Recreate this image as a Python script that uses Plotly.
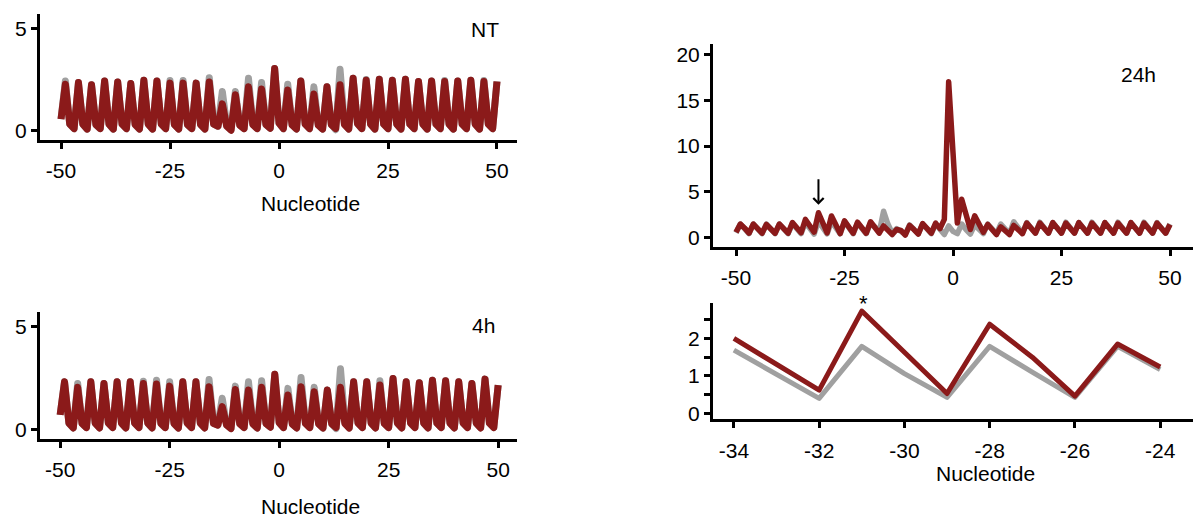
import plotly.graph_objects as go

# ---------------- data ----------------
nucleotide = list(range(-50, 51))

# NT (non-treated) : control (grey) and treated (red)
nt_treated = [0.55,
    2.27, 0.30, 0.08,  2.35, 0.30, 0.06,  2.24, 0.28, 0.08,  2.43, 0.30, 0.06,
    2.38, 0.30, 0.08,  2.30, 0.28, 0.06,  2.46, 0.30, 0.06,  2.43, 0.30, 0.08,
    2.32, 0.28, 0.06,  2.32, 0.28, 0.08,  2.32, 0.28, 0.06,  2.38, 0.30, 0.20,
    1.30, 0.20, 0.00,  1.75, 0.25, 0.08,  2.14, 0.28, 0.08,  2.03, 0.28, 0.10,
    3.04, 0.35, 0.08,  1.98, 0.26, 0.06,  2.43, 0.30, 0.08,  1.79, 0.25, 0.06,
    2.14, 0.28, 0.08,  2.24, 0.28, 0.06,  2.56, 0.32, 0.08,  2.46, 0.30, 0.06,
    2.51, 0.30, 0.08,  2.46, 0.30, 0.06,  2.51, 0.30, 0.08,  2.40, 0.30, 0.06,
    2.43, 0.30, 0.08,  2.40, 0.30, 0.06,  2.43, 0.30, 0.08,  2.46, 0.30, 0.06,
    2.40, 0.30, 0.08,
    2.40]
nt_control = [0.55,
    2.43, 0.30, 0.08,  2.35, 0.30, 0.06,  2.24, 0.28, 0.08,  2.43, 0.30, 0.06,
    2.38, 0.30, 0.08,  2.30, 0.28, 0.06,  2.46, 0.30, 0.06,  2.43, 0.30, 0.08,
    2.45, 0.28, 0.06,  2.45, 0.28, 0.08,  2.32, 0.28, 0.06,  2.59, 0.30, 0.20,
    1.91, 0.25, 0.03,  1.91, 0.26, 0.08,  2.56, 0.30, 0.08,  2.35, 0.28, 0.10,
    3.04, 0.35, 0.08,  2.27, 0.28, 0.06,  2.43, 0.30, 0.08,  2.14, 0.28, 0.06,
    2.14, 0.28, 0.03,  3.00, 0.35, 0.06,  2.56, 0.32, 0.08,  2.50, 0.30, 0.06,
    2.51, 0.30, 0.08,  2.46, 0.30, 0.06,  2.51, 0.30, 0.08,  2.40, 0.30, 0.06,
    2.43, 0.30, 0.08,  2.45, 0.30, 0.06,  2.43, 0.30, 0.08,  2.46, 0.30, 0.06,
    2.45, 0.30, 0.08,
    2.40]

# 4h
h4_treated = [0.70,
    2.31, 0.30, 0.06,  2.04, 0.28, 0.08,  2.31, 0.30, 0.06,  2.23, 0.30, 0.08,
    2.31, 0.30, 0.06,  2.31, 0.30, 0.08,  2.23, 0.30, 0.06,  2.20, 0.28, 0.08,
    2.10, 0.28, 0.06,  2.31, 0.30, 0.08,  2.31, 0.30, 0.06,  2.07, 0.28, 0.20,
    1.10, 0.20, 0.03,  1.94, 0.26, 0.08,  1.91, 0.26, 0.06,  2.04, 0.28, 0.10,
    2.68, 0.32, 0.08,  1.67, 0.25, 0.06,  2.07, 0.28, 0.08,  1.83, 0.26, 0.06,
    1.91, 0.26, 0.08,  2.04, 0.28, 0.06,  2.31, 0.30, 0.08,  2.31, 0.30, 0.06,
    2.15, 0.28, 0.08,  2.47, 0.30, 0.06,  2.31, 0.30, 0.08,  2.26, 0.30, 0.06,
    2.39, 0.30, 0.08,  2.36, 0.30, 0.06,  2.31, 0.30, 0.08,  2.23, 0.30, 0.06,
    2.44, 0.30, 0.08,
    2.15]
h4_control = [0.70,
    2.31, 0.30, 0.06,  2.23, 0.28, 0.08,  2.31, 0.30, 0.06,  2.23, 0.30, 0.08,
    2.31, 0.30, 0.06,  2.31, 0.30, 0.08,  2.34, 0.30, 0.06,  2.39, 0.28, 0.08,
    2.31, 0.28, 0.06,  2.31, 0.30, 0.08,  2.31, 0.30, 0.06,  2.42, 0.30, 0.20,
    1.51, 0.22, 0.03,  2.10, 0.28, 0.08,  2.31, 0.28, 0.06,  2.36, 0.28, 0.10,
    2.68, 0.32, 0.08,  1.99, 0.26, 0.06,  2.52, 0.30, 0.08,  2.04, 0.28, 0.06,
    1.91, 0.26, 0.03,  2.95, 0.35, 0.06,  2.31, 0.30, 0.08,  2.31, 0.30, 0.06,
    2.36, 0.28, 0.08,  2.47, 0.30, 0.06,  2.31, 0.30, 0.08,  2.26, 0.30, 0.06,
    2.39, 0.30, 0.08,  2.36, 0.30, 0.06,  2.31, 0.30, 0.08,  2.23, 0.30, 0.06,
    2.44, 0.30, 0.08,
    2.15]

# 24h
h24_treated = [0.60,
    1.50, 1.05, 0.50,  1.50, 1.00, 0.50,  1.45, 1.00, 0.50,  1.50, 1.05, 0.50,
    1.65, 1.10, 0.55,  2.00, 1.31, 0.62,  2.73, 1.63, 0.53,  2.38, 1.50, 0.46,
    1.85, 1.24, 0.50,  1.70, 1.10, 0.50,  1.75, 1.10, 0.50,  1.30, 0.90, 0.35,
    0.90, 0.80, 0.30,  1.35, 0.90, 0.40,  1.55, 1.00, 0.50,  1.60, 1.00, 2.00,
    17.0, 9.30, 1.60,  4.20, 2.60, 0.90,  2.40, 1.40, 0.60,  1.45, 0.90, 0.35,
    1.20, 0.80, 0.35,  1.35, 0.90, 0.45,  1.60, 1.05, 0.50,  1.60, 1.05, 0.50,
    1.65, 1.05, 0.50,  1.60, 1.05, 0.50,  1.65, 1.05, 0.50,  1.60, 1.05, 0.50,
    1.65, 1.05, 0.50,  1.60, 1.05, 0.50,  1.65, 1.05, 0.50,  1.60, 1.05, 0.50,
    1.60, 1.00, 0.50,
    1.45]
h24_control = [0.55,
    1.50, 1.00, 0.45,  1.50, 1.00, 0.45,  1.50, 1.00, 0.45,  1.50, 1.00, 0.45,
    1.55, 1.00, 0.45,  1.69, 1.05, 0.40,  1.79, 1.06, 0.43,  1.79, 1.10, 0.43,
    1.79, 1.17, 0.45,  1.60, 1.00, 0.45,  1.60, 1.20, 0.60,  2.90, 1.50, 0.50,
    1.00, 0.70, 0.40,  1.40, 0.90, 0.45,  1.50, 1.00, 0.45,  1.50, 0.90, 0.35,
    1.30, 0.70, 0.45,  1.50, 0.90, 0.40,  1.40, 0.90, 0.45,  1.50, 1.00, 0.45,
    1.50, 1.00, 0.45,  1.75, 1.10, 0.50,  1.65, 1.05, 0.50,  1.70, 1.05, 0.50,
    1.65, 1.05, 0.50,  1.70, 1.05, 0.50,  1.65, 1.05, 0.50,  1.70, 1.05, 0.50,
    1.65, 1.05, 0.50,  1.70, 1.05, 0.50,  1.65, 1.05, 0.50,  1.70, 1.05, 0.50,
    1.65, 1.00, 0.50,
    1.50]

zoom_start, zoom_end = -34, -24
x_ticks_full = [-50, -25, 0, 25, 50]
x_ticks_zoom = [-34, -32, -30, -28, -26, -24]

# ---------------- style ----------------
W, H = 1193, 524
RED = '#8b1a1a'
GREY = '#a0a0a0'
FONT = "Arial, 'Liberation Sans', sans-serif"


def px_x(p):
    return p / W


def px_y(p):
    return 1 - p / H


fig = go.Figure()

panels = [
    ('x', 'y', nt_control, nt_treated, 7),
    ('x2', 'y2', h4_control, h4_treated, 7),
    ('x3', 'y3', h24_control, h24_treated, 5.5),
]
for xa, ya, ctrl, trt, w in panels:
    fig.add_trace(go.Scatter(x=nucleotide, y=ctrl, mode='lines',
                             line=dict(color=GREY, width=w),
                             xaxis=xa, yaxis=ya, showlegend=False, hoverinfo='skip'))
    fig.add_trace(go.Scatter(x=nucleotide, y=trt, mode='lines',
                             line=dict(color=RED, width=w),
                             xaxis=xa, yaxis=ya, showlegend=False, hoverinfo='skip'))

zx = [n for n in nucleotide if zoom_start <= n <= zoom_end]
zc = [v for n, v in zip(nucleotide, h24_control) if zoom_start <= n <= zoom_end]
zt = [v for n, v in zip(nucleotide, h24_treated) if zoom_start <= n <= zoom_end]
fig.add_trace(go.Scatter(x=zx, y=zc, mode='lines', line=dict(color=GREY, width=5),
                         xaxis='x4', yaxis='y4', showlegend=False, hoverinfo='skip'))
fig.add_trace(go.Scatter(x=zx, y=zt, mode='lines', line=dict(color=RED, width=5),
                         xaxis='x4', yaxis='y4', showlegend=False, hoverinfo='skip'))

axis_common = dict(showline=True, linecolor='black', linewidth=3,
                   ticks='outside', ticklen=6, tickwidth=2.5, tickcolor='black',
                   showgrid=False, zeroline=False, fixedrange=True,
                   tickfont=dict(family=FONT, size=21, color='black'))


def xaxis(domain, anchor, rng, tickvals):
    d = dict(axis_common)
    d.update(domain=domain, anchor=anchor, range=rng, tickmode='array',
             tickvals=tickvals, ticktext=[str(t) for t in tickvals],
             ticklabelstandoff=4)
    return d


def yaxis(domain, anchor, rng, tickvals, minor=None):
    d = dict(axis_common)
    d.update(domain=domain, anchor=anchor, range=rng, tickmode='array',
             tickvals=tickvals, ticktext=[str(t) for t in tickvals])
    if minor:
        d['minor'] = minor
    return d


fig.update_layout(
    width=W, height=H,
    margin=dict(l=0, r=0, t=0, b=0),
    paper_bgcolor='white', plot_bgcolor='white',
    font=dict(family=FONT, color='black'),
    xaxis=xaxis([px_x(40), px_x(517)], 'y', [-54.82, 54.59], x_ticks_full),
    yaxis=yaxis([px_y(140), px_y(12)], 'x', [-0.485, 5.73], [0, 5]),
    xaxis2=xaxis([px_x(40), px_x(517)], 'y2', [-54.6, 54.3], x_ticks_full),
    yaxis2=yaxis([px_y(443), px_y(314)], 'x2', [-0.48, 5.72], [0, 5]),
    xaxis3=xaxis([px_x(713), 1.0], 'y3', [-55.3, 55.3], x_ticks_full),
    yaxis3=yaxis([px_y(248), px_y(43)], 'x3', [-0.97, 21.08], [0, 5, 10, 15, 20]),
    xaxis4=xaxis([px_x(713), 1.0], 'y4', [-34.49, -23.23], x_ticks_zoom),
    yaxis4=yaxis([px_y(423), px_y(305)], 'x4', [-0.158, 2.947], [0, 1, 2],
                 minor=dict(tickvals=[0.5, 1.5, 2.5], ticks='outside', ticklen=6,
                            tickwidth=2.5, tickcolor='black')),
)

ann_font = dict(family=FONT, size=21, color='black')
annotations = [
    dict(text='NT', x=px_x(485), y=px_y(28)),
    dict(text='4h', x=px_x(483), y=px_y(328)),
    dict(text='24h', x=px_x(1138), y=px_y(73)),
    dict(text='Nucleotide', x=px_x(310), y=px_y(204)),
    dict(text='Nucleotide', x=px_x(310), y=px_y(511)),
    dict(text='Nucleotide', x=px_x(985), y=px_y(478)),
]
for a in annotations:
    fig.add_annotation(xref='paper', yref='paper', showarrow=False,
                       xanchor='center', yanchor='middle', font=ann_font, **a)

# asterisk over the -31 peak in the zoom panel
fig.add_annotation(xref='paper', yref='paper', x=px_x(863), y=px_y(306), text='*',
                   showarrow=False, xanchor='center', yanchor='middle',
                   font=dict(family=FONT, size=22, color='black'))
# arrow over the -31 peak in the 24h panel
fig.add_annotation(xref='x3', yref='y3', x=-31, y=3.6, ax=0, ay=-27, text='',
                   showarrow=True, arrowhead=4, arrowsize=1, arrowwidth=2,
                   arrowcolor='black')

post = ("var s=document.createElement('style');"
        "s.innerHTML='.scatterlayer .js-line{stroke-linejoin:round !important;}';"
        "document.head.appendChild(s);")
fig.write_html("out.html", post_script=post)
